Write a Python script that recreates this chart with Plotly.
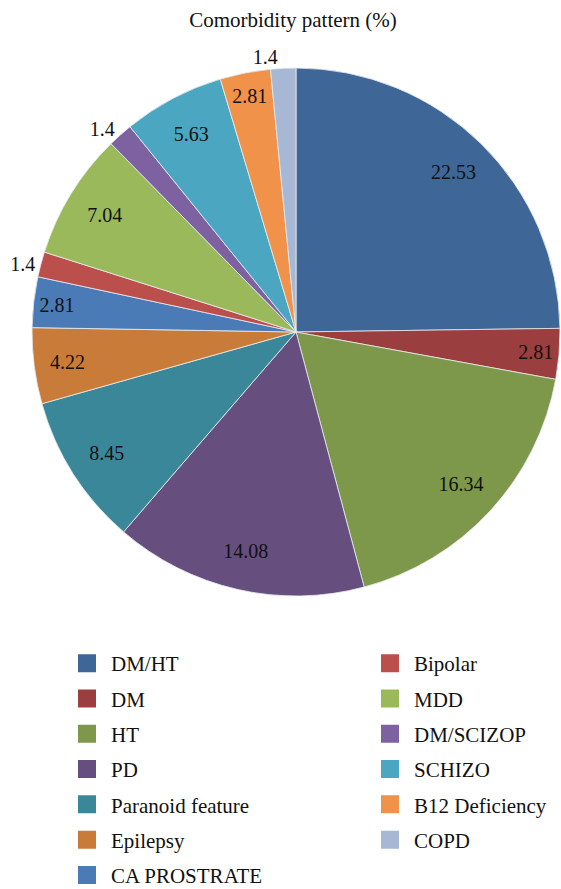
import plotly.graph_objects as go

labels = ["DM/HT", "DM", "HT", "PD", "Paranoid feature", "Epilepsy", "CA PROSTRATE",
          "Bipolar", "MDD", "DM/SCIZOP", "SCHIZO", "B12 Deficiency", "COPD"]
values = [22.53, 2.81, 16.34, 14.08, 8.45, 4.22, 2.81, 1.4, 7.04, 1.4, 5.63, 2.81, 1.4]
text_labels = ["22.53", "2.81", "16.34", "14.08", "8.45", "4.22", "2.81",
               "1.4", "7.04", "1.4", "5.63", "2.81", "1.4"]
colors = ["#3E6696", "#9A3E3F", "#7D984A", "#664F7F", "#3B879A", "#C97C3A", "#4A7BB7",
          "#BB4F4C", "#99B95B", "#7D61A0", "#4BA7C1", "#F0924A", "#A7B8D5"]
positions = ["inside", "inside", "inside", "inside", "inside", "inside", "inside",
             "outside", "inside", "outside", "inside", "inside", "outside"]

W, H = 561, 889
FONT = "Liberation Serif"
dom = dict(x=[32 / W, 560 / W], y=[1 - 596 / H, 1 - 68 / H])

fig = go.Figure()
# filled pie (no text)
fig.add_trace(go.Pie(
    labels=labels, values=values, textinfo="none",
    sort=False, direction="clockwise", rotation=0,
    marker=dict(colors=colors, line=dict(color="#E8ECF0", width=0.8)),
    showlegend=False, hoverinfo="label+value", domain=dom,
))
# transparent ring carrying the value labels near the outer edge
fig.add_trace(go.Pie(
    labels=labels, values=values, text=text_labels, textinfo="text",
    sort=False, direction="clockwise", rotation=0, hole=0.7,
    marker=dict(colors=["rgba(0,0,0,0)"] * len(values), line=dict(width=0)),
    textposition=positions, insidetextorientation="horizontal",
    textfont=dict(family=FONT, size=20, color="#111111"),
    showlegend=False, hoverinfo="skip", domain=dom,
))

left = list(range(7))
right = list(range(7, 13))
for grp, idxs in (("legend", left), ("legend2", right)):
    for i in idxs:
        fig.add_trace(go.Scatter(
            x=[None], y=[None], mode="markers", name=labels[i],
            marker=dict(symbol="square", size=16, color=colors[i],
                        line=dict(color=colors[i], width=2)),
            legend=grp, legendgroup=labels[i], showlegend=True,
        ))

legend_common = dict(
    font=dict(family=FONT, size=21, color="#111111"),
    orientation="v", tracegroupgap=5.0, itemsizing="trace", itemwidth=38,
    bgcolor="rgba(0,0,0,0)", xanchor="left", yanchor="top",
)
fig.update_layout(
    width=W, height=H,
    margin=dict(l=0, r=0, t=0, b=0, autoexpand=False),
    paper_bgcolor="white", plot_bgcolor="white",
    title=dict(text="Comorbidity pattern (%)", x=293 / W, xanchor="center",
               y=1 - 12 / H, yanchor="top",
               font=dict(family=FONT, size=21, color="#111111")),
    xaxis=dict(visible=False), yaxis=dict(visible=False),
    legend=dict(x=63 / W, y=1 - 643 / H, **legend_common),
    legend2=dict(x=366 / W, y=1 - 643 / H, **legend_common),
)
fig.write_html("out.html", config={"displayModeBar": False},
               post_script="document.body.style.margin='0';document.body.style.overflow='hidden';")
